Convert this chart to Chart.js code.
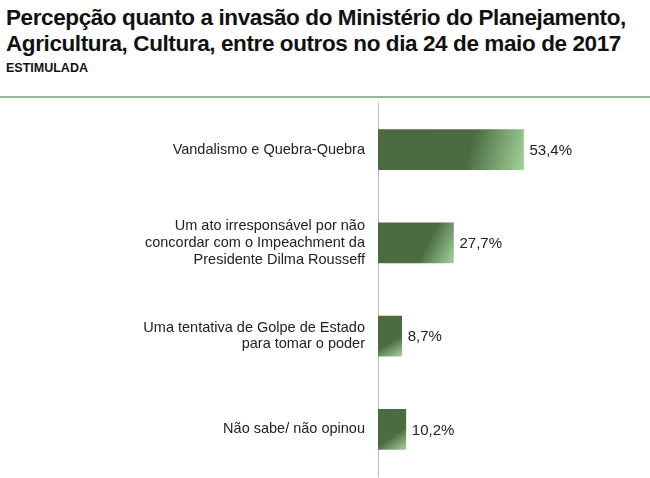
<!DOCTYPE html>
<html><head><meta charset="utf-8">
<script src="https://cdn.jsdelivr.net/npm/chart.js@4"></script>
<style>
body{margin:0;width:650px;height:478px;background:#fff;font-family:"Liberation Sans",Arial,sans-serif;position:relative;overflow:hidden}
#t{position:absolute;left:6px;top:5px;font-weight:bold;font-size:22.5px;line-height:26px;color:#111;letter-spacing:-0.4px}
#s{position:absolute;left:6px;top:61px;font-weight:bold;font-size:12.5px;color:#111}
#hr{position:absolute;left:0;top:96px;width:650px;height:2px;background:#9bb79a}
#c{position:absolute;left:0;top:100px}
</style></head><body>
<div id="t">Percepção quanto a invasão do Ministério do Planejamento,<br>Agricultura, Cultura, entre outros no dia 24 de maio de 2017</div>
<div id="s">ESTIMULADA</div>
<div id="hr"></div>
<canvas id="c" width="650" height="378"></canvas>
<script>
const categories=[["Vandalismo e Quebra-Quebra"],["Um ato irresponsável por não","concordar com o Impeachment da","Presidente Dilma Rousseff"],["Uma tentativa de Golpe de Estado","para tomar o poder"],["Não sabe/ não opinou"]];
const values=[53.4,27.7,8.7,10.2];
const valueLabels=["53,4%","27,7%","8,7%","10,2%"];
function grad(ctx){
  const ch=ctx.chart; if(!ch.chartArea||ctx.dataIndex===undefined) return '#4b6b40';
  const xs=ch.scales.x, ys=ch.scales.y;
  const x0=xs.getPixelForValue(0), x1=xs.getPixelForValue(values[ctx.dataIndex]);
  const y=ys.getPixelForValue(ctx.dataIndex);
  const g=ch.ctx.createLinearGradient(x0,y-20,x1,y+20);
  g.addColorStop(0,'#4a6a3f');g.addColorStop(0.62,'#4b6b40');g.addColorStop(1,'#a3d29c');
  return g;
}
const lbl={id:'lbl',afterDatasetsDraw(ch){
  const c=ch.ctx; c.save(); c.font='15px "Liberation Sans",Arial'; c.fillStyle='#222'; c.textBaseline='middle';
  ch.getDatasetMeta(0).data.forEach((b,i)=>{c.fillText(valueLabels[i],b.x+6,b.y+1);});
  c.restore();}};
new Chart(document.getElementById('c'),{type:'bar',
 data:{labels:categories,datasets:[{data:values,backgroundColor:grad,barThickness:40}]},
 options:{indexAxis:'y',responsive:false,animation:false,
  layout:{padding:{top:3,bottom:2,right:54,left:0}},
  plugins:{legend:{display:false},tooltip:{enabled:false}},
  scales:{x:{min:0,max:80,display:false},
   y:{grid:{display:false,drawTicks:false},border:{color:'#bbb'},
      ticks:{color:'#222',font:{family:'"Liberation Sans",Arial',size:14.5,lineHeight:1.15},padding:13},
      afterFit(s){s.width=378;s.paddingTop=0;s.paddingBottom=0;}}}},
 plugins:[lbl]});
</script></body></html>
